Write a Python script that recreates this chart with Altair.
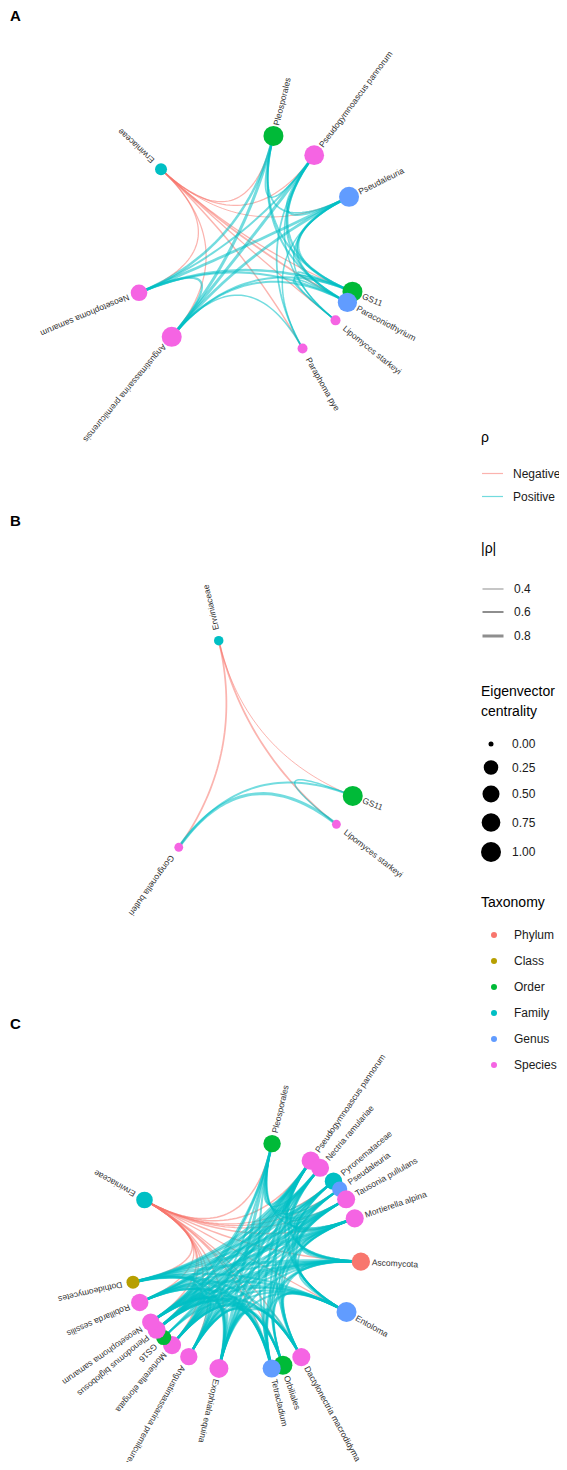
import math
import numpy as np
import pandas as pd
import altair as alt

# ---------------- data ----------------
panel_labels = ["A", "B", "C"]

tax_levels = ["Phylum", "Class", "Order", "Family", "Genus", "Species"]
tax_colors = ["#F8766D", "#B79F00", "#00BA38", "#00BFC4", "#619CFF", "#F564E3"]

# Panel A
a_names = ["Erwiniaceae", "Pleosporales", "Pseudogymnoascus pannorum", "Pseudaleuria", "GS11",
           "Paraconiothyrium", "Lipomyces starkeyi", "Paraphoma pye",
           "Angustimassarina premilcurensis", "Neosetophoma samarum"]
a_angle = [223.0, 284.0, 306.5, 333.7, 22.2, 28.1, 38.8, 60.4, 129.7, 157.2]
a_tax = ["Family", "Order", "Species", "Genus", "Order", "Genus", "Species", "Species", "Species", "Species"]
a_cent = [0.10, 1.00, 0.95, 1.00, 1.00, 0.85, 0.04, 0.04, 1.00, 0.45]
a_edges = [
    (0, 1, -0.45), (0, 2, -0.45), (0, 3, -0.40), (0, 4, -0.45), (0, 5, -0.55), (0, 6, -0.45),
    (0, 7, -0.50), (0, 8, -0.45), (0, 9, -0.45),
    (1, 2, 0.50), (1, 3, 0.55), (1, 4, 0.60), (1, 5, 0.60), (1, 8, 0.80), (1, 9, 0.70),
    (2, 3, 0.60), (2, 4, 0.65), (2, 5, 0.60), (2, 6, 0.50), (2, 7, 0.55), (2, 8, 0.80), (2, 9, 0.60),
    (3, 4, 0.70), (3, 5, 0.65), (3, 6, 0.50), (3, 7, 0.50), (3, 8, 0.75), (3, 9, 0.75),
    (4, 5, 0.55), (4, 6, 0.50), (4, 8, 0.60), (4, 9, 0.70),
    (5, 6, 0.50), (5, 8, 0.60), (5, 9, 0.60),
    (8, 9, 0.65), (8, 7, 0.50),
]

# Panel B
b_names = ["Erwiniaceae", "GS11", "Lipomyces starkeyi", "Gongronella butleri"]
b_angle = [256.6, 21.8, 38.1, 125.3]
b_tax = ["Family", "Order", "Species", "Species"]
b_cent = [0.03, 1.00, 0.02, 0.02]
b_edges = [
    (0, 1, -0.40), (0, 2, -0.55), (0, 3, -0.55),
    (3, 1, 0.60), (3, 2, 0.80), (1, 2, 0.50),
]

# Panel C
c_names = ["Pleosporales", "Pseudogymnoascus pannorum", "Nectria ramulariae", "Pyronemataceae",
           "Pseudaleuria", "Tausonia pullulans", "Mortierella alpina", "Ascomycota", "Entoloma",
           "Dactylonectria macrodidyma", "Orbiliales", "Tetracladium", "Exophiala equina",
           "Angustimassarina premilcurensis", "Mortierella elongata", "GS16", "Plenodomus biglobosus",
           "Neosetophoma samarum", "Robillarda sessilis", "Dothideomycetes", "Erwiniaceae"]
c_angle = [283.3, 304.4, 310.2, 319.6, 324.6, 330.6, 341.0, 2.8, 29.0, 61.1, 71.1, 76.9,
           103.3, 119.4, 129.5, 135.1, 140.3, 145.1, 156.3, 166.9, 209.0]
c_tax = ["Order", "Species", "Species", "Family", "Genus", "Species", "Species", "Phylum", "Genus",
         "Species", "Order", "Genus", "Species", "Species", "Species", "Order", "Species",
         "Species", "Species", "Class", "Family"]
c_cent = [0.55, 0.68, 0.65, 0.55, 0.30, 0.65, 0.65, 0.68, 1.00, 0.65, 0.80, 0.65, 0.80,
          0.54, 0.65, 0.30, 0.65, 0.55, 0.55, 0.15, 0.45]
c_edges = [
    (20, 0, -0.5), (20, 1, -0.5), (20, 3, -0.45), (20, 4, -0.45), (20, 5, -0.45), (20, 6, -0.5),
    (20, 7, -0.5), (20, 8, -0.45), (20, 9, -0.45), (20, 10, -0.45), (20, 11, -0.5), (20, 12, -0.5),
    (20, 13, -0.45), (20, 14, -0.5), (20, 16, -0.45), (20, 17, -0.5), (20, 18, -0.45), (20, 19, -0.5),
    (0, 1, .6), (0, 2, .5), (0, 3, .5), (0, 4, .5), (0, 5, .5), (0, 6, .5), (0, 11, .6), (0, 12, .8),
    (0, 13, .6), (0, 16, .7), (0, 17, .7),
    (1, 3, .5), (1, 5, .5), (1, 6, .6), (1, 7, .6), (1, 8, .6), (1, 9, .6), (1, 11, .7), (1, 12, .6),
    (1, 13, .7), (1, 14, .7), (1, 16, .6), (1, 17, .7), (1, 18, .7), (1, 19, .8),
    (2, 4, .5), (2, 6, .6), (2, 7, .6), (2, 8, .6), (2, 10, .6), (2, 12, .6), (2, 14, .7), (2, 15, .6),
    (2, 17, .6), (2, 18, .7), (2, 19, .7),
    (3, 5, .5), (3, 6, .5), (3, 7, .6), (3, 8, .6), (3, 9, .5), (3, 13, .6), (3, 16, .7), (3, 18, .6),
    (3, 19, .7),
    (4, 6, .5), (4, 7, .5), (4, 8, .6), (4, 10, .5), (4, 12, .6), (4, 14, .6), (4, 17, .7), (4, 18, .6),
    (5, 7, .6), (5, 8, .6), (5, 9, .6), (5, 11, .6), (5, 12, .6), (5, 13, .6), (5, 15, .6), (5, 16, .7),
    (5, 17, .6), (5, 19, .7),
    (6, 7, .6), (6, 8, .6), (6, 9, .6), (6, 10, .5), (6, 11, .6), (6, 12, .7), (6, 13, .6), (6, 14, .6),
    (6, 16, .7), (6, 18, .7), (6, 19, .8),
    (7, 8, .6), (7, 9, .6), (7, 10, .6), (7, 11, .7), (7, 12, .6), (7, 13, .6), (7, 14, .7), (7, 15, .6),
    (7, 16, .7), (7, 17, .7), (7, 18, .6), (7, 19, .8),
    (8, 9, .6), (8, 10, .6), (8, 11, .6), (8, 12, .6), (8, 13, .6), (8, 14, .6), (8, 16, .6), (8, 17, .7),
    (8, 18, .7), (8, 19, .6),
    (9, 11, .6), (9, 12, .6), (9, 13, .6), (9, 14, .6), (9, 16, .6), (9, 17, .6), (9, 19, .7),
    (10, 12, .6), (10, 13, .6), (10, 14, .6), (10, 16, .6), (10, 17, .6), (10, 18, .6),
    (11, 12, .6), (11, 13, .6), (11, 14, .6), (11, 15, .6), (11, 16, .7), (11, 17, .7), (11, 18, .6),
    (11, 19, .8),
    (12, 13, .6), (12, 14, .6), (12, 16, .6), (12, 17, .6), (12, 18, .6), (12, 19, .7),
    (13, 14, .6), (13, 16, .6), (13, 17, .6), (13, 19, .6),
    (14, 16, .6), (14, 17, .6), (14, 18, .6),
    (16, 17, .7), (16, 18, .6),
    (17, 18, .6), (17, 19, .6),
]

# ---------------- layout (circular, radius = 1 layout unit) ----------------
W, H = 551, 1454
S = 115.5                      # pixels per layout unit
CX_PX = 237.5
CENTER_PX = [240, 745, 1248]   # vertical centre of each panel's circle
X0 = -CX_PX / S
X1 = X0 + W / S
Y1 = H / S
T = np.linspace(0, 1, 41)

panels = [
    (a_names, a_angle, a_tax, a_cent, a_edges),
    (b_names, b_angle, b_tax, b_cent, b_edges),
    (c_names, c_angle, c_tax, c_cent, c_edges),
]

node_rows, edge_rows, letter_rows = [], [], []
for p, (names, angles, tax, cent, edges) in enumerate(panels):
    cy = CENTER_PX[p] / S
    xy = []
    for n, a, tx, c in zip(names, angles, tax, cent):
        r = math.radians(a)
        x, y = math.cos(r), cy + math.sin(r)
        xy.append((x, y))
        node_rows.append(dict(name=n, x=x, y=y, ang=a % 360, tax=tx, cent=c))
    for k, (s, d, rho) in enumerate(edges):
        (x0, y0), (x1, y1) = xy[s], xy[d]
        for t in T:
            edge_rows.append(dict(
                eid=f"{p}-{k}", t=float(t),
                x=(1 - t) ** 2 * x0 + t ** 2 * x1,
                y=(1 - t) ** 2 * y0 + 2 * t * (1 - t) * cy + t ** 2 * y1,
                sign="Negative" if rho < 0 else "Positive",
                absrho=abs(rho)))
    letter_rows.append(dict(label=panel_labels[p], x=X0 + 2 / S, y=cy - 232 / S))

nodes_df = pd.DataFrame(node_rows)
edges_df = pd.DataFrame(edge_rows)
letters_df = pd.DataFrame(letter_rows)

FONT = "Liberation Sans"
LX = 473
xs = alt.X("x:Q", scale=alt.Scale(domain=[X0, X1], nice=False, zero=False), axis=None)
ys = alt.Y("y:Q", scale=alt.Scale(domain=[0, Y1], nice=False, zero=False, reverse=True), axis=None)

common_leg = dict(orient="none", titleFont=FONT, titleFontSize=14, titleFontWeight="normal",
                  titleColor="#000000", labelFont=FONT, labelFontSize=12, labelColor="#1a1a1a",
                  legendX=LX)

edges = alt.Chart(edges_df).mark_line(opacity=0.55, strokeCap="butt").encode(
    x=xs, y=ys, detail="eid:N", order="t:Q",
    stroke=alt.Stroke("sign:N",
                      scale=alt.Scale(domain=["Negative", "Positive"], range=["#F8766D", "#00BFC4"]),
                      legend=alt.Legend(title="ρ", legendY=423, symbolType="stroke", symbolSize=441,
                                        symbolStrokeWidth=1.2, titlePadding=17, rowPadding=5,
                                        labelOffset=9, **common_leg)),
    strokeWidth=alt.StrokeWidth("absrho:Q",
                                scale=alt.Scale(domain=[0.4, 0.8], range=[1.0, 3.0], zero=False),
                                legend=alt.Legend(title="|ρ|", legendY=534, values=[0.4, 0.6, 0.8],
                                                  symbolType="stroke", symbolSize=441,
                                                  symbolStrokeColor="#333333", titlePadding=22,
                                                  rowPadding=5.5, labelOffset=9, **common_leg)),
)

nodes = alt.Chart(nodes_df).mark_circle(opacity=1).encode(
    x=xs, y=ys,
    fill=alt.Fill("tax:N", scale=alt.Scale(domain=tax_levels, range=tax_colors),
                  legend=alt.Legend(title="Taxonomy", legendY=888, symbolType="circle", symbolSize=36,
                                    symbolStrokeWidth=0, symbolOffset=7, labelOffset=14,
                                    titlePadding=19, rowPadding=14, **common_leg)),
    size=alt.Size("cent:Q", scale=alt.Scale(type="pow", exponent=0.5, domain=[0, 1], range=[25, 400]),
                  legend=alt.Legend(title=["Eigenvector", "centrality"], legendY=677,
                                    values=[0, 0.25, 0.5, 0.75, 1], format=".2f",
                                    symbolFillColor="#000000", symbolStrokeWidth=0,
                                    titleLineHeight=20, titlePadding=19, rowPadding=10,
                                    labelOffset=11, **common_leg)),
)

labels = alt.Chart(nodes_df).mark_text(
    align="left", baseline="middle", dx=11, fontSize=8.5, font=FONT, color="#333333"
).encode(x=xs, y=ys, text="name:N", angle=alt.Angle("ang:Q", scale=None))

letters = alt.Chart(letters_df).mark_text(
    align="left", baseline="middle", fontSize=15, fontWeight="bold", font=FONT, color="#000000"
).encode(x=xs, y=ys, text="label:N")

chart = alt.layer(edges, nodes, labels, letters).properties(
    width=W, height=H, padding=0, autosize=alt.AutoSizeParams(type="none")
).configure(font=FONT).configure_view(stroke=None)

chart.save("out.html", embed_options={"renderer": "svg", "actions": False})
